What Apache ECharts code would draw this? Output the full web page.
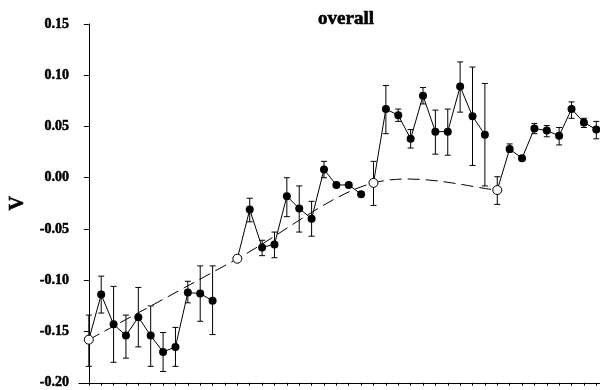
<!DOCTYPE html>
<html>
<head>
<meta charset="utf-8">
<script src="https://cdn.jsdelivr.net/npm/echarts@6/dist/echarts.min.js"></script>
<style>html,body{margin:0;padding:0;background:#fff;}#c{width:600px;height:390px;}</style>
</head>
<body>
<div id="c"></div>
<script>
// Data
var xIndex = [0,1,2,3,4,5,6,7,8,9,10,11,12,13,14,15,16,17,18,19,20,21,22,23,24,25,26,27,28,29,30,31,32,33,34,35,36,37,38,39,40,41];
var vValues = [-0.158,-0.114,-0.143,-0.154,-0.136,-0.154,-0.170,-0.165,-0.112,-0.113,-0.120,null,
  -0.079,-0.031,-0.068,-0.065,-0.018,-0.030,-0.040,0.008,-0.007,-0.007,-0.016,
  -0.005,0.067,0.061,0.038,0.080,0.045,0.045,0.089,0.060,0.042,
  -0.012,0.028,0.019,0.048,0.046,0.041,0.067,0.054,0.047];
var errHigh = [-0.134,-0.096,-0.106,-0.134,-0.107,-0.125,-0.151,-0.146,-0.101,-0.086,-0.086,null,
  null,-0.020,-0.061,-0.053,0.000,-0.008,-0.023,0.016,null,null,null,
  0.016,0.090,0.067,0.047,0.088,0.066,0.067,0.113,0.108,0.092,
  0.001,0.033,null,0.053,0.051,0.049,0.074,0.058,0.055];
var errLow = [-0.184,-0.132,-0.180,-0.176,-0.165,-0.184,-0.189,-0.184,-0.122,-0.140,-0.153,null,
  null,-0.043,-0.076,-0.078,-0.038,-0.053,-0.057,0.000,null,null,null,
  -0.027,0.043,0.055,0.029,0.072,0.023,0.022,0.064,0.012,-0.008,
  -0.026,0.025,null,0.043,0.040,0.032,0.058,0.049,0.038];
var groupStarts = [0, 12, 23, 33];
var groupEnds = [10, 22, 32, 41];
var yTicks = [-0.20,-0.15,-0.10,-0.05,0.00,0.05,0.10,0.15];
var titleText = 'overall';
var yName = 'V';

var FONT = "'Liberation Serif','Times New Roman',serif";

var series = [];
groupStarts.forEach(function (s, g) {
  var d = [];
  for (var i = s; i <= groupEnds[g]; i++) {
    if (vValues[i] !== null) d.push([xIndex[i], vValues[i]]);
  }
  series.push({
    type: 'line', data: d, symbol: 'circle', symbolSize: 8,
    itemStyle: { color: '#000' }, lineStyle: { color: '#000', width: 1 },
    z: 4, animation: false
  });
});
var errData = [];
for (var i = 0; i < xIndex.length; i++) {
  if (errHigh[i] !== null && errLow[i] !== null) errData.push([xIndex[i], errLow[i], errHigh[i]]);
}
series.push({
  type: 'custom', data: errData, z: 3, animation: false,
  renderItem: function (params, api) {
    var x = api.value(0);
    var lo = api.coord([x, api.value(1)]);
    var hi = api.coord([x, api.value(2)]);
    var w = 3;
    var st = { stroke: '#000', lineWidth: 1 };
    return { type: 'group', children: [
      { type: 'line', shape: { x1: lo[0], y1: lo[1], x2: hi[0], y2: hi[1] }, style: st },
      { type: 'line', shape: { x1: lo[0]-w, y1: lo[1], x2: lo[0]+w, y2: lo[1] }, style: st },
      { type: 'line', shape: { x1: hi[0]-w, y1: hi[1], x2: hi[0]+w, y2: hi[1] }, style: st }
    ]};
  }
});
var openData = groupStarts.map(function (s) { return [xIndex[s], vValues[s]]; });
// dashed smoothed line through the open points (Excel-style smoothing, drawn via axis coords)
series.push({
  type: 'custom', data: openData, z: 2, animation: false,
  renderItem: function (params, api) {
    if (params.dataIndex !== 0) return null;
    var P = openData.map(function (p) { return api.coord(p); });
    var n = P.length;
    var d = 'M' + P[0][0] + ' ' + P[0][1];
    for (var k = 0; k < n - 1; k++) {
      var p0 = P[Math.max(k - 1, 0)], p1 = P[k], p2 = P[k + 1], p3 = P[Math.min(k + 2, n - 1)];
      var c1x = p1[0] + (p2[0] - p0[0]) / 6, c1y = p1[1] + (p2[1] - p0[1]) / 6;
      var c2x = p2[0] - (p3[0] - p1[0]) / 6, c2y = p2[1] - (p3[1] - p1[1]) / 6;
      d += ' C' + c1x + ' ' + c1y + ' ' + c2x + ' ' + c2y + ' ' + p2[0] + ' ' + p2[1];
    }
    return { type: 'path', shape: { pathData: d },
      style: { fill: 'none', stroke: '#000', lineWidth: 1, lineDash: [12, 6] } };
  }
});
series.push({
  type: 'scatter', data: openData, symbol: 'circle', symbolSize: 9,
  itemStyle: { color: '#fff', borderColor: '#000', borderWidth: 1, opacity: 1 }, z: 5, animation: false
});

var chart = echarts.init(document.getElementById('c'), null, { renderer: 'canvas' });
chart.setOption({
  animation: false,
  backgroundColor: '#fff',
  title: {
    text: titleText, left: 341, top: 5, textAlign: 'center',
    textStyle: { fontFamily: FONT, fontWeight: 'bold', fontSize: 19, color: '#000',
      textBorderColor: '#000', textBorderWidth: 0.6 }
  },
  grid: { left: 76, right: 0, top: 24, bottom: 5 },
  xAxis: {
    type: 'value', min: -0.8, max: 41.3,
    axisLine: { show: true, onZero: false, lineStyle: { color: '#000', width: 1 } },
    axisTick: { show: true, length: 3, customValues: xIndex, lineStyle: { color: '#000' } },
    axisLabel: { show: false },
    splitLine: { show: false }
  },
  yAxis: {
    type: 'value', min: yTicks[0], max: yTicks[yTicks.length - 1], interval: 0.05,
    name: yName, nameLocation: 'middle', nameGap: 50,
    nameTextStyle: { fontFamily: FONT, fontWeight: 'bold', fontSize: 20, color: '#000',
      textBorderColor: '#000', textBorderWidth: 0.6 },
    axisLine: { show: true, lineStyle: { color: '#000', width: 1 } },
    axisTick: { show: true, length: 5, lineStyle: { color: '#000' } },
    axisLabel: {
      fontFamily: FONT, fontWeight: 'bold', fontSize: 14, color: '#000', margin: 10,
      textBorderColor: '#000', textBorderWidth: 0.5,
      formatter: function (v) { return v.toFixed(2); }
    },
    splitLine: { show: false }
  },
  series: series
});
</script>
</body>
</html>
